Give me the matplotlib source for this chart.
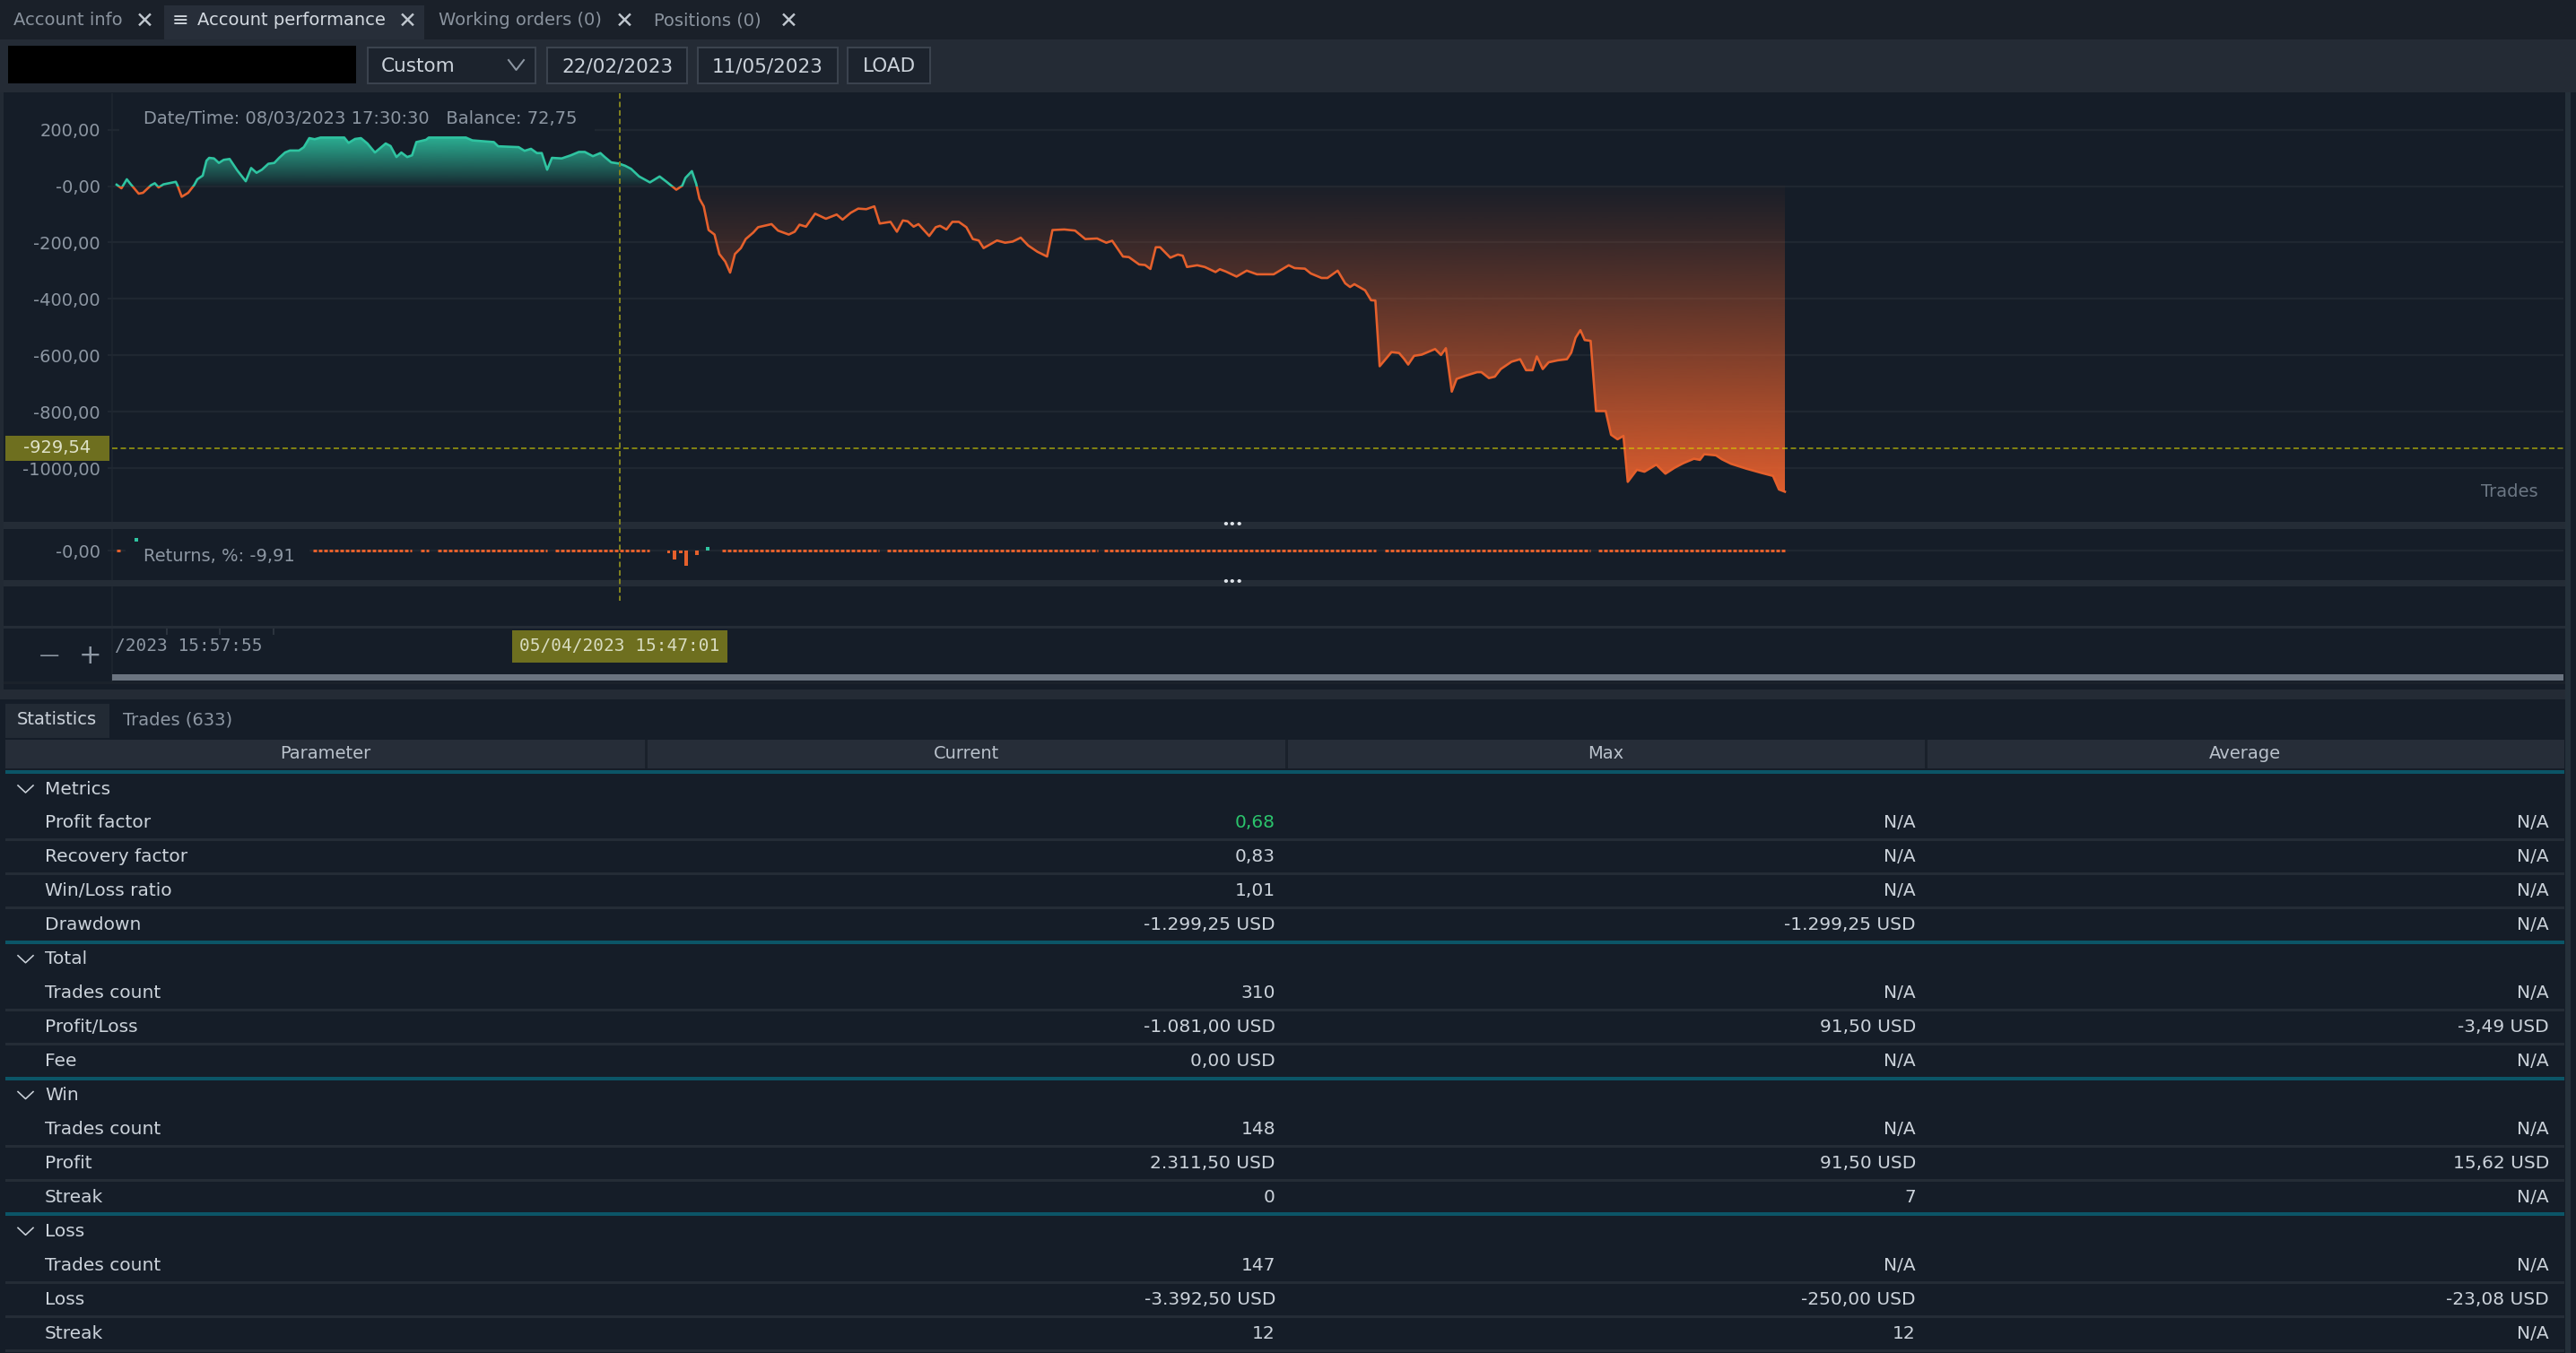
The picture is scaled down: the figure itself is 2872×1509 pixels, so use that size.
import numpy as np
import matplotlib
matplotlib.use("Agg")
import matplotlib.pyplot as plt
from matplotlib.patches import Rectangle
from matplotlib.path import Path
from matplotlib.transforms import blended_transform_factory

plt.rcParams['font.family'] = ['DejaVu Sans']
plt.rcParams['lines.scale_dashes'] = False

W, H = 2872, 1509
PT = 72 / 100  # points per pixel at dpi 100

# ---- equity curve (trade number -> balance, USD) ----
trade_no = [0.0, 0.9, 1.9, 2.6, 4.1, 4.9, 6.4, 7.1, 7.8, 8.7,
            11.0, 11.3, 12.1, 13.3, 14.4, 15.0, 16.0, 16.7, 17.2, 18.1,
            19.0, 19.9, 21.0, 22.4, 24.0, 25.0, 26.0, 27.0, 28.2, 29.3,
            30.2, 31.3, 32.2, 33.9, 34.8, 35.8, 36.8, 37.9, 42.3, 43.1,
            44.3, 45.4, 46.6, 48.0, 50.0, 50.9, 52.0, 52.9, 54.0, 54.9,
            55.7, 57.5, 58.0, 64.9, 66.1, 70.1, 70.9, 74.7, 75.8, 77.0,
            78.1, 79.0, 80.0, 80.9, 82.7, 84.4, 85.9, 87.0, 88.5, 89.9,
            90.7, 91.9, 93.3, 94.5, 95.6, 97.1, 99.1, 100.9, 102.2, 104.0,
            105.1, 105.7, 106.9, 107.7, 108.3, 109.1, 110.0, 111.1, 112.0, 113.1,
            114.0, 114.9, 116.0, 116.9, 118.3, 119.2, 121.7, 122.9, 124.9, 126.0,
            126.9, 128.1, 129.8, 131.8, 133.8, 134.9, 136.4, 137.8, 139.3, 140.8,
            141.8, 143.8, 145.0, 146.1, 147.0, 148.1, 149.0, 151.0, 152.2, 153.0,
            154.2, 155.3, 156.5, 157.9, 159.1, 160.2, 161.1, 163.6, 165.1, 166.5,
            168.0, 169.4, 171.1, 172.9, 173.9, 176.1, 178.1, 180.0, 182.2, 183.9,
            185.0, 187.0, 188.1, 190.0, 191.1, 192.1, 193.1, 193.9, 195.8, 197.2,
            198.1, 198.9, 200.8, 202.2, 204.2, 205.0, 206.1, 208.1, 210.0, 211.9,
            215.0, 217.8, 218.9, 220.8, 221.9, 223.9, 225.0, 226.9, 228.3, 229.2,
            230.0, 232.0, 233.1, 233.9, 234.7, 236.9, 238.3, 239.2, 240.0, 241.1,
            242.5, 245.0, 246.1, 247.0, 248.1, 249.0, 250.6, 252.8, 253.6, 255.0,
            256.1, 257.2, 259.2, 260.8, 261.9, 263.1, 263.9, 265.0, 266.1, 267.8,
            269.5, 270.3, 271.1, 272.0, 272.8, 273.9, 274.9, 276.7, 277.7, 278.9,
            280.0, 280.8, 282.5, 283.9, 286.1, 287.8, 289.5, 291.1, 293.1, 294.2,
            295.0, 297.2, 298.3, 300.0, 302.8, 305.6, 307.8, 308.9, 310.0]
balance = [5, -8, 24, 7, -27, -24, 3, 10, -5, 6,
           15, 3, -38, -24, 3, 24, 37, 90, 100, 98,
           82, 93, 96, 56, 17, 64, 47, 58, 79, 82,
           100, 119, 126, 126, 138, 170, 166, 172, 172, 153,
           167, 170, 151, 119, 151, 142, 103, 119, 103, 109,
           156, 164, 172, 172, 162, 156, 141, 138, 125, 132,
           117, 117, 58, 100, 98, 109, 121, 121, 106, 117,
           103, 84, 80, 72, 61, 34, 13, 34, 15, -13,
           1, 29, 53, 8, -45, -72, -156, -172, -241, -268,
           -307, -241, -220, -188, -165, -146, -135, -158, -172, -162,
           -137, -144, -98, -116, -101, -119, -95, -80, -82, -72,
           -133, -127, -162, -122, -125, -144, -135, -177, -146, -141,
           -154, -127, -127, -146, -188, -193, -220, -193, -201, -197,
           -183, -211, -233, -250, -156, -154, -158, -188, -186, -201,
           -194, -250, -252, -278, -280, -294, -217, -217, -254, -243,
           -247, -287, -281, -287, -305, -295, -303, -321, -300, -313,
           -313, -281, -291, -293, -310, -326, -326, -300, -345, -358,
           -348, -370, -405, -406, -639, -589, -592, -612, -633, -602,
           -598, -578, -599, -575, -729, -684, -673, -660, -660, -681,
           -676, -649, -623, -614, -653, -653, -604, -649, -625, -618,
           -614, -591, -538, -511, -546, -549, -798, -798, -882, -898,
           -886, -1049, -1006, -1013, -988, -1020, -999, -983, -967, -971,
           -951, -955, -969, -985, -1002, -1017, -1028, -1076, -1084]

y_ticks = [200, 0, -200, -400, -600, -800, -1000]
y_tick_labels = ["200,00", "-0,00", "-200,00", "-400,00", "-600,00", "-800,00", "-1000,00"]

# ---- returns panel (% per trade) ----
run_start = [0, 36.5, 56.5, 59.6, 81.5, 112.5, 143.2, 183.5, 235.7, 275.4]
run_end = [1, 54.8, 58, 80, 99, 141.6, 182.3, 234, 273.8, 310]
spike_trade = [102.6, 103.7, 104.8, 105.8, 107.8]
spike_value = [-3, -10, -3, -17, -5]
gain_trade = [3.7, 109.8]
gain_value = [12, 2]

# ---- cursor ----
cross_trade = 93.5
cross_value = -929.54
cursor_info = "Date/Time: 08/03/2023 17:30:30   Balance: 72,75"
returns_info = "Returns, %: -9,91"
cursor_time = "05/04/2023 15:47:01"
axis_time = "/2023 15:57:55"

# ---- UI texts ----
tabs = ["Account info", "Account performance", "Working orders (0)", "Positions (0)"]
period = "Custom"
date_from = "22/02/2023"
date_to = "11/05/2023"
bottom_tabs = ["Statistics", "Trades (633)"]

columns = ["Parameter", "Current", "Max", "Average"]
groups = ["Metrics", "Total", "Win", "Loss"]
params = [["Profit factor", "Recovery factor", "Win/Loss ratio", "Drawdown"],
          ["Trades count", "Profit/Loss", "Fee"],
          ["Trades count", "Profit", "Streak"],
          ["Trades count", "Loss", "Streak"]]
current = [["0,68", "0,83", "1,01", "-1.299,25 USD"],
           ["310", "-1.081,00 USD", "0,00 USD"],
           ["148", "2.311,50 USD", "0"],
           ["147", "-3.392,50 USD", "12"]]
maximum = [["N/A", "N/A", "N/A", "-1.299,25 USD"],
           ["N/A", "91,50 USD", "N/A"],
           ["N/A", "91,50 USD", "7"],
           ["N/A", "-250,00 USD", "12"]]
average = [["N/A", "N/A", "N/A", "N/A"],
           ["N/A", "-3,49 USD", "N/A"],
           ["N/A", "15,62 USD", "N/A"],
           ["N/A", "-23,08 USD", "N/A"]]

# colours
CHART_BG = '#151d28'
TAB_BG = '#1a2029'
ACTIVE_TAB = '#272e39'
TOOL_BG = '#242b35'
SEP = '#242c36'
GRID = '#1f2731'
HEADER_BG = '#262d38'
TEAL = '#0b5567'
TXT = '#cbd2da'
DIM = '#8d97a3'
GREEN = '#2fc4a1'
ORANGE = '#e5602c'
OLIVE = '#6e6f1f'
CROSS = '#80801f'

fig = plt.figure(figsize=(W / 100, H / 100), dpi=100, facecolor=CHART_BG)


def axes_px(x0, y0, x1, y1):
    return fig.add_axes([x0 / W, 1 - y1 / H, (x1 - x0) / W, (y1 - y0) / H])


def pixel_layer():
    a = fig.add_axes([0, 0, 1, 1])
    a.set_xlim(0, W)
    a.set_ylim(H, 0)
    a.set_autoscale_on(False)
    a.axis('off')
    return a


def box(a, x0, y0, x1, y1, fc, ec='none', lw=0, z=1):
    a.add_patch(Rectangle((x0, y0), x1 - x0, y1 - y0, facecolor=fc,
                          edgecolor=ec, linewidth=lw * PT, zorder=z))


bg = pixel_layer()

# tab bar
box(bg, 0, 0, W, 44, TAB_BG)
box(bg, 183, 6, 473, 44, ACTIVE_TAB)
tab_x = [15, 220, 489, 729]
close_x = [161, 454, 696, 879]
for i, name in enumerate(tabs):
    col = '#d3d9e0' if i == 1 else '#8a939e'
    bg.text(tab_x[i], 23, name, color=col, fontsize=14, va='center')
    bg.text(close_x[i], 24, '\u2715', color='#c0c7cf', fontsize=18, va='center', ha='center')
bg.text(201, 23, '\u2261', color='#d3d9e0', fontsize=16, va='center', ha='center')

# toolbar
box(bg, 0, 44, W, 103, TOOL_BG)
box(bg, 9, 51, 397, 93, '#000000')
for x0, x1 in [(410, 597), (610, 766), (778, 934), (945, 1037)]:
    box(bg, x0, 53, x1, 93, '#1c232d', ec='#3b434e', lw=2, z=2)
bg.text(425, 74, period, color=TXT, fontsize=15.5, va='center', zorder=3)
bg.plot([567, 575.5, 584], [67, 78, 67], color='#8d97a3', lw=2 * PT, zorder=3)
bg.text(688, 74, date_from, color=TXT, fontsize=15.5, va='center', ha='center', zorder=3)
bg.text(856, 74, date_to, color=TXT, fontsize=15.5, va='center', ha='center', zorder=3)
bg.text(991, 74, "LOAD", color=TXT, fontsize=15.5, va='center', ha='center', zorder=3)

# frame strips and separators
box(bg, 0, 103, 4, 780, '#222a34')
box(bg, 124, 104, 126, 760, '#1c242e')
box(bg, 2860, 103, 2866, H, '#25303a')
box(bg, 4, 582, 2860, 590, SEP)
box(bg, 4, 647, 2860, 654, SEP)
box(bg, 4, 698, 2860, 701, SEP)
for tx_ in [186, 245, 305]:
    box(bg, tx_ - 1, 701, tx_ + 1, 708, '#2c343e')
bg.text(128, 721, axis_time, color=DIM, fontsize=14, family='DejaVu Sans Mono', va='center')
bg.text(55, 731, '\u2014', color='#8d97a3', fontsize=16, va='center', ha='center')
bg.text(101, 731, '+', color='#8d97a3', fontsize=22, va='center', ha='center')
box(bg, 125, 752, 2858, 759, '#6b7480')
box(bg, 4, 760, 2860, 763, '#1b222b')
box(bg, 0, 769, 2860, 780, TOOL_BG)

# statistics table
box(bg, 6, 785, 122, 823, '#222a34')
bg.text(19, 803, bottom_tabs[0], color=TXT, fontsize=14, va='center')
bg.text(137, 803, bottom_tabs[1], color=DIM, fontsize=14, va='center')
box(bg, 6, 825, 2859, 857, HEADER_BG)
col_edges = [6, 720, 1434, 2147, 2859]
for xe in col_edges[1:-1]:
    box(bg, xe - 1.5, 825, xe + 1.5, 857, '#1a212b', z=2)
for i, c in enumerate(columns):
    bg.text((col_edges[i] + col_edges[i + 1]) / 2, 841, c, color='#b9c1cb',
            fontsize=14, ha='center', va='center', zorder=3)
box(bg, 6, 859, 2859, 863, TEAL)

ROW0, PITCH = 880, 37.95
value_right = [1422, 2136, 2842]
k = 0
for g, gname in enumerate(groups):
    yc = ROW0 + PITCH * k
    bg.plot([20, 28.5, 37], [yc - 4, yc + 4, yc - 4], color=TXT, lw=1.6 * PT)
    bg.text(50, yc, gname, color=TXT, fontsize=14.5, va='center')
    k += 1
    for j, pname in enumerate(params[g]):
        yc = ROW0 + PITCH * k
        bg.text(50, yc, pname, color=TXT, fontsize=14.5, va='center')
        cols = [current[g][j], maximum[g][j], average[g][j]]
        for c, val in enumerate(cols):
            colr = '#2bc46c' if (g == 0 and j == 0 and c == 0) else TXT
            bg.text(value_right[c], yc, val, color=colr, fontsize=14.5, va='center', ha='right')
        yb = yc + PITCH / 2
        last = j == len(params[g]) - 1
        if last and g < len(groups) - 1:
            box(bg, 6, yb - 2, 2859, yb + 2, TEAL)
        else:
            box(bg, 6, yb - 1.5, 2859, yb + 1.5, SEP)
        k += 1

# ---- equity panel ----
tn = np.array(trade_no, dtype=float)
bal = np.array(balance, dtype=float)

EQ_TOP, EQ_BOT = 104, 582
ZERO_PX, PX_PER_200 = 207.5, 62.9
x_left, x_right = (125 - 130) / 6, (2858 - 130) / 6
y_top = (ZERO_PX - EQ_TOP) * 200 / PX_PER_200
y_bot = (ZERO_PX - EQ_BOT) * 200 / PX_PER_200

eq = axes_px(125, EQ_TOP, 2858, EQ_BOT)
eq.set_facecolor('none')
for s in eq.spines.values():
    s.set_visible(False)


def gradient_fill(ax, x, y, where, far, rgb, a_near, a_far, power):
    poly = ax.fill_between(x, y, 0, where=where, interpolate=True,
                           facecolor='none', edgecolor='none')
    path = Path.make_compound_path(*poly.get_paths())
    alpha = a_near + (a_far - a_near) * np.linspace(0, 1, 256) ** power
    img = np.zeros((256, 1, 4))
    img[..., :3] = matplotlib.colors.to_rgb(rgb)
    img[:, 0, 3] = alpha
    lo, hi = (0, far) if far > 0 else (far, 0)
    im = ax.imshow(img if far > 0 else img[::-1], aspect='auto', origin='lower',
                   extent=[x.min(), x.max(), lo, hi], zorder=1, interpolation='bilinear')
    im.set_clip_path(path, ax.transData)


gradient_fill(eq, tn, bal, bal >= 0, bal.max(), '#2db99a', 0.05, 0.95, 0.9)
gradient_fill(eq, tn, bal, bal <= 0, bal.min(), '#e5602e', 0.03, 0.97, 1.1)

lg, = eq.plot(tn, bal, color=GREEN, lw=2.6 * PT, zorder=3)
lg.set_clip_path(Rectangle((-50, 0), 1000, 5000, transform=eq.transData))
lo_, = eq.plot(tn, bal, color=ORANGE, lw=2.6 * PT, zorder=3)
lo_.set_clip_path(Rectangle((-50, -5000), 1000, 5000, transform=eq.transData))

eq.axhline(cross_value, color='#d8d400', alpha=0.55, lw=2 * PT,
           dashes=(6 * PT, 3.5 * PT), zorder=4)

eq.set_xlim(x_left, x_right)
eq.set_ylim(y_bot, y_top)
eq.set_xticks([])
eq.set_yticks(y_ticks)
eq.set_yticklabels(y_tick_labels)
eq.tick_params(axis='y', length=5 * PT, width=2 * PT, color=GRID, pad=8 * PT,
               labelsize=14, labelcolor=DIM)
eq.grid(axis='y', color=GRID, linewidth=2.2 * PT)
eq.set_axisbelow(True)

# ---- returns panel ----
ret = axes_px(125, 590, 2858, 647)
ret.set_facecolor('none')
for s in ret.spines.values():
    s.set_visible(False)
ret.hlines([0] * len(run_start), run_start, run_end, colors=ORANGE, linewidth=3 * PT,
           linestyles=[(0, (4 * PT, 2 * PT))], zorder=3)
ret.bar(spike_trade, spike_value, width=0.6, color=ORANGE, zorder=3)
ret.scatter(gain_trade, gain_value, marker='s', s=(3.5 * PT) ** 2, color=GREEN,
            linewidths=0, zorder=3)
ret.set_xlim(x_left, x_right)
ret.set_ylim(-33, 24)
ret.set_xticks([])
ret.set_yticks([0])
ret.set_yticklabels(["-0,00"])
ret.tick_params(axis='y', length=5 * PT, width=2 * PT, color=GRID, pad=8 * PT,
                labelsize=14, labelcolor=DIM)
ret.grid(axis='y', color=GRID, linewidth=2.2 * PT)
ret.set_axisbelow(True)

# ---- overlay: cursor, labels ----
ov = pixel_layer()
tx = blended_transform_factory(eq.transData, ov.transData)
ty = blended_transform_factory(ov.transData, eq.transData)

box(ov, 133, 118, 663, 150, CHART_BG)
ov.text(160, 133, cursor_info, color=DIM, fontsize=14, va='center', zorder=2)
box(ov, 140, 605, 345, 638, CHART_BG)
ov.text(160, 621, returns_info, color=DIM, fontsize=14, va='center', zorder=2)
ov.text(2830, 549, "Trades", color='#6b7683', fontsize=14, va='center', ha='right')
for yy in [585, 650]:
    ov.text(1374, yy, '\u2022\u2022\u2022', color='#dfe4ea', fontsize=9,
            fontweight='bold', ha='center', va='center')

ov.plot([cross_trade, cross_trade], [EQ_TOP, 670], transform=tx, color=CROSS,
        lw=2 * PT, dashes=(6 * PT, 3.5 * PT), zorder=3)
unit_per_px = (y_top - y_bot) / (EQ_BOT - EQ_TOP)
ov.add_patch(Rectangle((6, cross_value - 14 * unit_per_px), 116, 28 * unit_per_px,
                       transform=ty, facecolor=OLIVE, edgecolor='none', zorder=4))
ov.text(64, cross_value, f"{cross_value:.2f}".replace('.', ','), transform=ty,
        color='#dfe2c8', fontsize=14, ha='center', va='center', zorder=5)
ov.text(cross_trade, 721, cursor_time, transform=tx, color='#d8dcc0', fontsize=14,
        family='DejaVu Sans Mono', ha='center', va='center', zorder=5,
        bbox=dict(boxstyle='square,pad=0.45', facecolor=OLIVE, edgecolor='none'))

fig.savefig('out.png', dpi=100, facecolor=CHART_BG)
